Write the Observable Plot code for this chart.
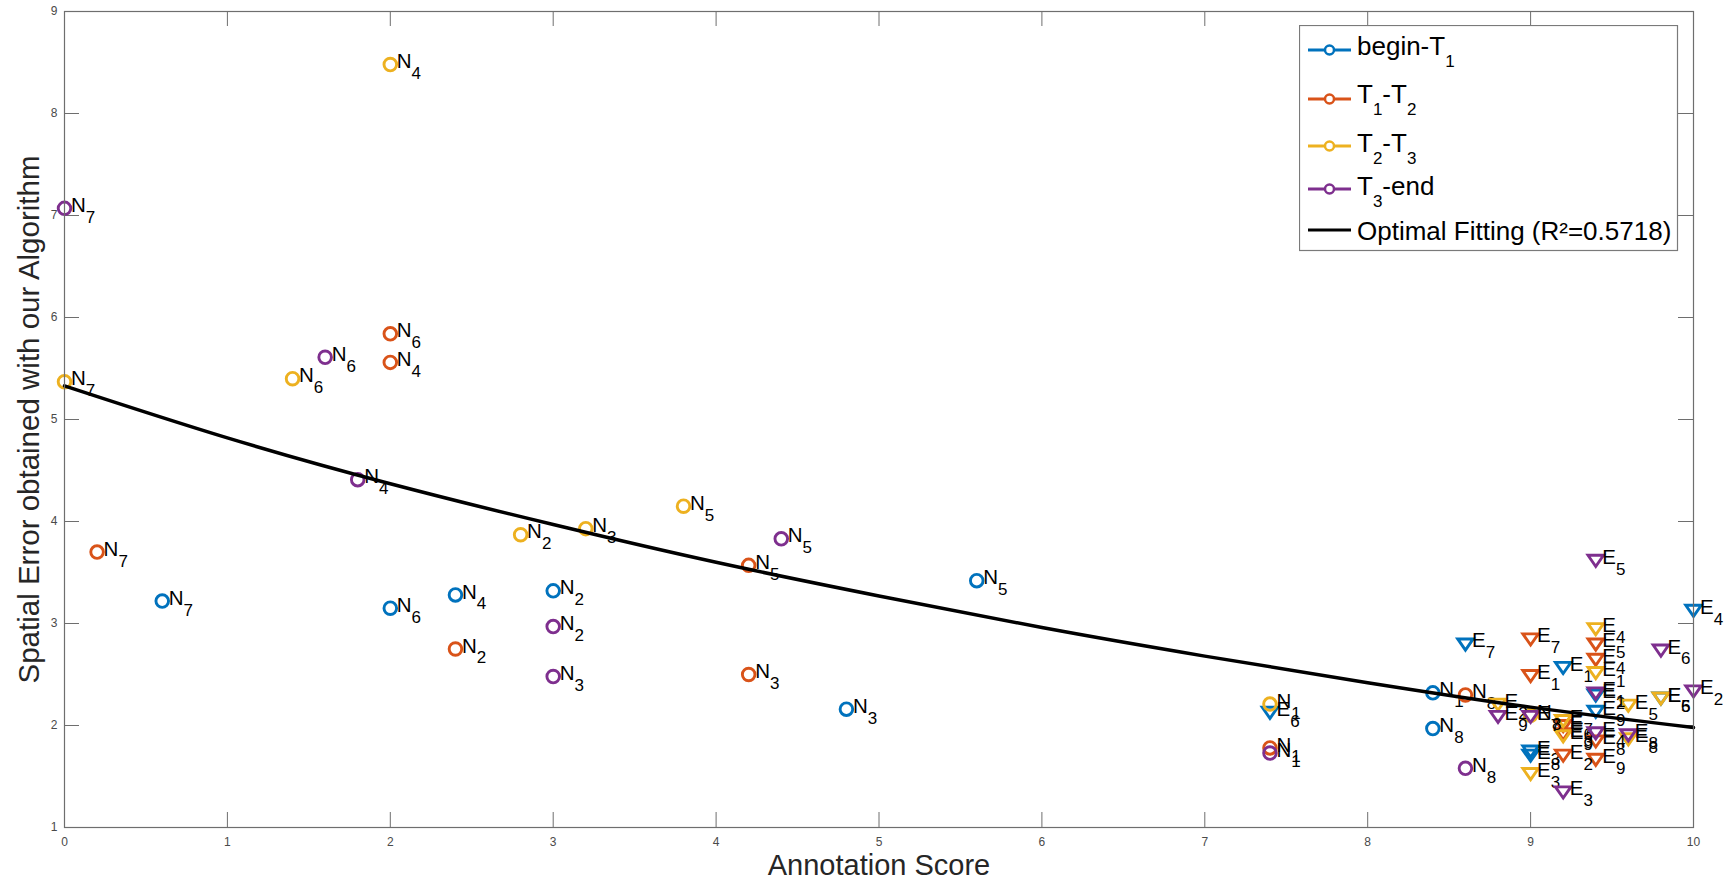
<!DOCTYPE html>
<html><head><meta charset="utf-8">
<script src="https://cdn.jsdelivr.net/npm/d3@7"></script>
<script src="https://cdn.jsdelivr.net/npm/@observablehq/plot@0.6"></script>
<style>
body{margin:0;background:#fff;}
#wrap{position:relative;width:1724px;height:891px;font-family:"Liberation Sans",Arial,Helvetica,sans-serif;}
#legend{position:absolute;left:1299px;top:25px;}
</style></head><body><div id="wrap"></div>
<script>
// ---- data ----
const xTicks = [0,1,2,3,4,5,6,7,8,9,10];
const yTicks = [1,2,3,4,5,6,7,8,9];
const seriesNames = ["begin-T1","T1-T2","T2-T3","T3-end"];
const seriesColors = ["#0072BD","#D95319","#EDB120","#7E2F8E"];

const blueX   = [0.6, 2.0, 2.4, 3.0, 4.8, 5.6, 8.4, 8.4, 7.4, 8.6, 10.0, 9.2, 9.4, 9.4, 9.0, 9.0, 9.8];
const blueY   = [3.22,3.15,3.28,3.32,2.16,3.42,2.32,1.97,2.13,2.80,3.13, 2.57,2.30,2.14,1.75,1.71,2.27];
const blueLab = ["N7","N6","N4","N2","N3","N5","N1","N8","E6","E7","E4","E1","E2","E9","E3","E8","E5"];

const orangeX   = [0.2, 2.0, 2.0, 2.4, 4.2, 4.2, 7.4, 8.6, 9.0, 9.0, 9.4, 9.4, 9.4, 9.4, 9.2, 9.2, 9.2];
const orangeY   = [3.70,5.84,5.56,2.75,3.57,2.50,1.78,2.30,2.85,2.49,2.80,2.65,1.85,1.67,2.00,1.92,1.71];
const orangeLab = ["N7","N6","N4","N2","N5","N3","N1","N8","E7","E1","E5","E4","E8","E9","E6","E3","E2"];

const yellowX   = [2.0, 0.0, 1.4, 2.8, 3.2, 3.8, 7.4, 9.0, 9.4, 9.4, 9.6, 9.6, 9.8, 9.0, 8.8, 9.2, 9.2];
const yellowY   = [8.48,5.37,5.40,3.87,3.93,4.15,2.21,2.10,2.95,2.52,2.20,1.87,2.27,1.53,2.21,2.05,1.90];
const yellowLab = ["N4","N7","N6","N2","N3","N5","N1","N8","E4","E1","E5","E8","E6","E3","E2","E7","E9"];

const purpleX   = [0.0, 1.6, 1.8, 3.0, 3.0, 4.4, 7.4, 8.6, 9.4, 9.8, 10.0, 9.2, 8.8, 9.6, 9.4, 9.4, 9.0];
const purpleY   = [7.07,5.61,4.41,2.97,2.48,3.83,1.73,1.58,3.62,2.74,2.34, 1.35,2.09,1.91,2.32,1.93,2.09];
const purpleLab = ["N7","N6","N4","N2","N3","N5","N1","N8","E5","E6","E2","E3","E9","E8","E1","E4","E7"];

const fitX = [0,1,2,3,4,5,6,7,8,9,10];
const fitY = [5.33,4.82,4.37,3.97,3.60,3.27,2.96,2.68,2.42,2.18,1.98];
const fitName = "Optimal Fitting (R\u00B2=0.5718)";
const xLabel = "Annotation Score";
const yLabel = "Spatial Error obtained with our Algorithm";

// ---- build ----
const W = 1724, H = 891, mL = 64, mR = 31, mT = 11, mB = 64;
const plotW = W - mL - mR, plotH = H - mT - mB;
const font = "Liberation Sans, Arial, Helvetica, sans-serif";
const axisGray = "#6e6e6e";

function rowsOf(xs, ys, labs) {
  return xs.map((x, i) => ({x, y: ys[i], letter: labs[i][0], sub: labs[i].slice(1)}));
}
const allSeries = [
  rowsOf(blueX, blueY, blueLab),
  rowsOf(orangeX, orangeY, orangeLab),
  rowsOf(yellowX, yellowY, yellowLab),
  rowsOf(purpleX, purpleY, purpleLab)
];

const triangleDown = {
  draw(context, size) {
    const s = Math.sqrt(size / Math.PI);
    context.moveTo(0, 1.0 * s);
    context.lineTo(-1.25 * s, -0.8 * s);
    context.lineTo(1.25 * s, -0.8 * s);
    context.closePath();
  }
};

const marks = [
  Plot.tickX(xTicks, {x: d => d, stroke: axisGray, insetTop: plotH - 15}),
  Plot.tickX(xTicks, {x: d => d, stroke: axisGray, insetBottom: plotH - 15}),
  Plot.tickY(yTicks, {y: d => d, stroke: axisGray, insetRight: plotW - 15}),
  Plot.tickY(yTicks, {y: d => d, stroke: axisGray, insetLeft: plotW - 15}),
  Plot.axisX({ticks: xTicks, tickSize: 0, tickPadding: 10, fontSize: 12, color: "#4a4a4a", label: null, fontFamily: font}),
  Plot.axisY({ticks: yTicks, tickSize: 0, tickPadding: 7, fontSize: 12, color: "#4a4a4a", label: null, fontFamily: font}),
  Plot.text([xLabel], {text: d => d, frameAnchor: "bottom", textAnchor: "middle", dy: 47, fontSize: 29, fill: "#262626", fontFamily: font}),
  Plot.text([yLabel], {text: d => d, frameAnchor: "left", textAnchor: "middle", rotate: -90, dx: -35, fontSize: 29.5, fill: "#262626", fontFamily: font})
];

allSeries.forEach((rows, i) => {
  const color = seriesColors[i];
  const circ = rows.filter(d => d.letter === "N");
  const tri = rows.filter(d => d.letter === "E");
  marks.push(Plot.dot(circ, {x: "x", y: "y", r: 6.3, symbol: "circle", fill: "none", stroke: color, strokeWidth: 2.9}));
  marks.push(Plot.dot(tri, {x: "x", y: "y", r: 6.2, symbol: triangleDown, fill: "none", stroke: color, strokeWidth: 2.9}));
  marks.push(Plot.text(rows, {x: "x", y: "y", text: "letter", textAnchor: "start", dx: 6.5, dy: -3, fontSize: 20.5, fill: "black", fontFamily: font}));
  marks.push(Plot.text(circ, {x: "x", y: "y", text: "sub", textAnchor: "start", dx: 21.3, dy: 9, fontSize: 17, fill: "black", fontFamily: font}));
  marks.push(Plot.text(tri, {x: "x", y: "y", text: "sub", textAnchor: "start", dx: 20.2, dy: 9, fontSize: 17, fill: "black", fontFamily: font}));
});

marks.push(Plot.line(fitX.map((x, i) => ({x, y: fitY[i]})), {x: "x", y: "y", stroke: "black", strokeWidth: 3.5, curve: "natural"}));
marks.push(Plot.frame({stroke: axisGray, strokeWidth: 1.2}));

const chart = Plot.plot({
  width: W, height: H,
  marginLeft: mL, marginRight: mR, marginTop: mT, marginBottom: mB,
  x: {domain: [0, 10]},
  y: {domain: [1, 9]},
  style: {fontFamily: font, background: "white"},
  marks
});
document.getElementById("wrap").appendChild(chart);

// ---- legend ----
const legendEntries = [
  {color: seriesColors[0], parts: [["begin-T", 0], ["1", 1]], ly: 25, ty: 30},
  {color: seriesColors[1], parts: [["T", 0], ["1", 1], ["-T", 0], ["2", 1]], ly: 74, ty: 78},
  {color: seriesColors[2], parts: [["T", 0], ["2", 1], ["-T", 0], ["3", 1]], ly: 121, ty: 127},
  {color: seriesColors[3], parts: [["T", 0], ["3", 1], ["-end", 0]], ly: 164, ty: 170},
  {color: "black", parts: [[fitName, 0]], ly: 205, ty: 215, fit: true}
];
const leg = d3.select("#wrap").append("svg").attr("id", "legend")
  .attr("width", 380).attr("height", 228).style("font-family", font);
leg.append("rect").attr("x", 0.5).attr("y", 0.5).attr("width", 378).attr("height", 225)
  .attr("fill", "white").attr("stroke", "#7a7a7a").attr("stroke-width", 1.2);
legendEntries.forEach(e => {
  leg.append("line").attr("x1", 9).attr("x2", 52).attr("y1", e.ly).attr("y2", e.ly)
    .attr("stroke", e.color).attr("stroke-width", 3);
  if (!e.fit) {
    leg.append("circle").attr("cx", 30.5).attr("cy", e.ly).attr("r", 4.5)
      .attr("fill", "white").attr("stroke", e.color).attr("stroke-width", 2.5);
  }
  const t = leg.append("text").attr("x", 58).attr("y", e.ty).attr("font-size", 26).attr("fill", "black");
  let prev = 0;
  e.parts.forEach(([s, sub]) => {
    const dy = sub ? 12 : 0;
    t.append("tspan").attr("dy", dy - prev).attr("font-size", sub ? 17 : 26).text(s);
    prev = dy;
  });
});
</script></body></html>
